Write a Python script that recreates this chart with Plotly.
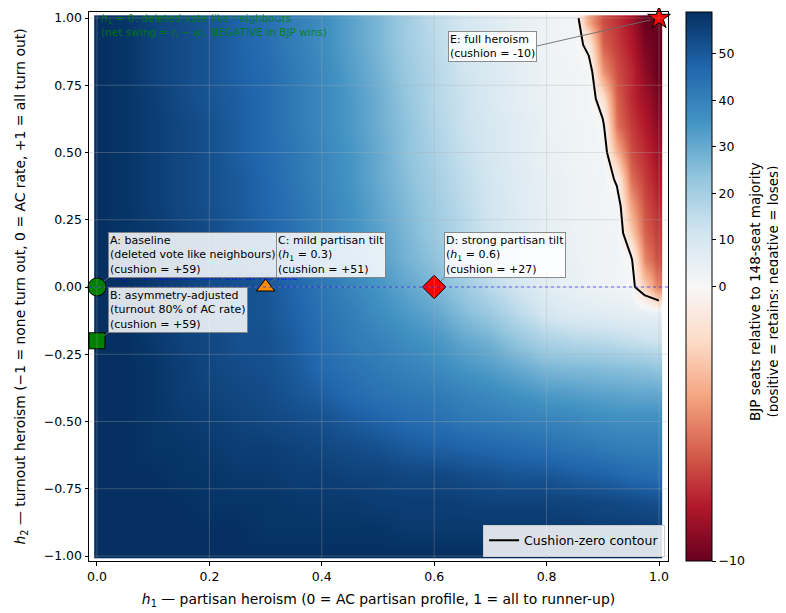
import numpy as np
import plotly.graph_objects as go

# ---------------- data ----------------
# grid of partisan heroism h1 (columns) and turnout heroism h2 (rows)
h1_vals = [0.0, 0.05, 0.10, 0.15, 0.20, 0.25, 0.30, 0.35, 0.40, 0.45, 0.50, 0.55,
           0.60, 0.65, 0.70, 0.75, 0.80, 0.825, 0.85, 0.875, 0.90, 0.925, 0.95, 0.975, 1.00]
h2_vals = [-1.0, -0.9, -0.8, -0.7, -0.6, -0.5, -0.4, -0.3, -0.2, -0.1, 0.0,
           0.1, 0.2, 0.3, 0.4, 0.5, 0.6, 0.7, 0.8, 0.9, 1.0]

# BJP seats relative to the 148-seat majority (cushion), one row per h2 value
cushion = [
    [59, 59, 59, 59, 59, 59, 59, 59, 59, 59, 59, 59, 59, 59, 59, 59, 59, 59, 59, 59, 59, 59, 59, 59, 59],
    [59, 59, 59, 59, 59, 59, 58, 58, 58, 58, 58, 57, 57, 57, 57, 57, 57, 56.5, 56.5, 56, 56, 56, 56, 56, 56],
    [59, 59, 59, 59, 58, 58, 58, 57.5, 57, 57, 56, 56, 56, 55.5, 55, 55, 55, 54.5, 54.5, 54, 54, 53.5, 53, 52.5, 52],
    [59, 59, 59, 58, 58, 57, 57, 56, 56, 55, 55, 54, 54, 53, 52, 51, 51, 50, 49, 48.5, 48, 47, 46, 45.5, 45],
    [59, 59, 58, 58, 57, 56, 56, 55, 54, 53, 52, 50, 49, 48, 47, 46, 45, 44, 43.5, 43, 42, 41.5, 41, 41, 41],
    [59, 59, 58, 57, 56, 55, 54, 53, 52, 50, 48, 46, 45, 43, 42, 41, 40, 39.5, 39, 38, 37.5, 37, 37, 37, 37],
    [59, 59, 58, 56, 55, 54, 53, 51, 49, 46, 44, 43, 42, 40, 38, 36, 34, 33.5, 33, 32.5, 32, 31.5, 31, 31, 31],
    [59, 59, 58, 56, 54, 53, 52, 50, 46, 44, 42, 40, 38, 35, 33, 30, 27, 26.5, 26, 26, 25.5, 25, 24.5, 24, 23],
    [59, 59, 57, 55, 54, 52, 52, 49, 45, 42, 40, 37, 35, 31, 28, 23, 19, 18, 17, 16.5, 16, 15, 14, 13, 12],
    [59, 59, 57, 55, 53, 52, 51, 48, 44, 41, 37, 34, 31, 26, 22, 16, 11, 9, 8, 7.5, 7, 6.5, 6, 5.5, 5],
    [59, 59, 57, 55, 53, 52, 51, 47, 43, 39, 35, 31, 27, 22, 16, 11, 7, 5.5, 4.5, 3.5, 2.5, 2, 1, -2.5, -5],
    [59, 59, 57, 55, 53, 51, 49, 45, 41, 37, 33, 28, 24, 18, 13, 9, 6, 5, 4, 3, 2.5, 2, 0.5, -5, -6.5],
    [59, 58, 57, 55, 53, 50, 48, 44, 40, 36, 32, 27, 22, 17, 12, 8.5, 5.5, 4.5, 3.5, 3, 2.5, 2, -2.5, -6, -7],
    [59, 58, 56, 54, 52, 50, 47, 44, 40, 36, 31, 26, 21, 16, 11, 8, 5, 4, 3, 2.5, 2, 1.5, -4, -6.5, -7.5],
    [59, 58, 56, 54, 52, 50, 47, 43, 39, 35, 30, 25, 20, 15, 11, 7.5, 5, 4, 3, 2.5, 2, -0.5, -5.5, -7, -8],
    [59, 58, 56, 54, 52, 49, 46, 43, 39, 35, 30, 24, 19, 14, 10, 7, 4.5, 3.5, 2.5, 2, 1.5, -3.5, -6.5, -7.5, -8.5],
    [59, 58, 56, 54, 52, 49, 46, 42, 38, 34, 29, 24, 18, 13, 10, 7, 4, 3, 2.5, 2, 0.5, -5.5, -7, -8, -9],
    [59, 58, 56, 53, 51, 49, 46, 42, 38, 34, 29, 23, 17, 13, 9, 6, 4, 3, 2, 1.5, -1.5, -6, -7.5, -8.5, -9.5],
    [59, 58, 55, 53, 51, 48, 46, 42, 38, 33, 28, 22, 17, 12, 9, 6, 3.5, 2.5, 2, 1.5, -4.5, -6.5, -7.5, -9, -10],
    [59, 58, 55, 53, 51, 48, 45, 41, 37, 32, 27, 21, 16, 11, 8, 5, 3, 2, 1.5, -1, -6, -7, -8, -9.5, -10],
    [59, 58, 55, 53, 51, 48, 45, 41, 37, 32, 27, 21, 15, 11, 8, 5, 3, 2, 1.5, -4, -6.5, -7.3, -8.3, -10, -10],
]

# named scenarios
scen_names = ["A", "B", "C", "D", "E"]
scen_h1 = [0.0, 0.0, 0.3, 0.6, 1.0]
scen_h2 = [0.0, -0.2, 0.0, 0.0, 1.0]
scen_cushion = [59, 59, 51, 27, -10]
scen_titles = ["A: baseline", "B: asymmetry-adjusted", "C: mild partisan tilt",
               "D: strong partisan tilt", "E: full heroism"]
scen_notes = ["(deleted vote like neighbours)", "(turnout 80% of AC rate)",
              "(<i>h</i><sub>1</sub> = 0.3)", "(<i>h</i><sub>1</sub> = 0.6)", None]

x_ticks = [0.0, 0.2, 0.4, 0.6, 0.8, 1.0]
y_ticks = [-1.0, -0.75, -0.5, -0.25, 0.0, 0.25, 0.5, 0.75, 1.0]
cb_ticks = [-10, 0, 10, 20, 30, 40, 50]

# ---------------- helpers ----------------
z = np.array(cushion, dtype=float)
vmin, vcenter, vmax = -10.0, 0.0, float(z.max())


def norm(v):
    """Two-slope normalisation (vmin -> 0, 0 -> 0.5, vmax -> 1)."""
    v = np.asarray(v, dtype=float)
    return np.where(v >= vcenter,
                    0.5 + 0.5 * (v - vcenter) / (vmax - vcenter),
                    0.5 - 0.5 * (vcenter - v) / (vcenter - vmin))


def fmt(v, nd):
    s = f"{abs(v):.{nd}f}"
    return ("\u2212" + s) if v < 0 else s


h1 = np.array(h1_vals)
h2 = np.array(h2_vals)
# brick edges for the heatmap (cells centred on the grid values)
xe = np.concatenate([[h1[0] - 0.005], (h1[:-1] + h1[1:]) / 2, [h1[-1] + 0.005]])
ye = np.concatenate([[h2[0] - 0.01], (h2[:-1] + h2[1:]) / 2, [h2[-1] + 0.01]])

rdbu = [[0.0, '#67001f'], [0.1, '#b2182b'], [0.2, '#d6604d'], [0.3, '#f4a582'],
        [0.4, '#fddbc7'], [0.5, '#f7f7f7'], [0.6, '#d1e5f0'], [0.7, '#92c5de'],
        [0.8, '#4393c3'], [0.9, '#2166ac'], [1.0, '#053061']]

FONT = "DejaVu Sans"
TICK = 12.5
LABEL = 13.9

fig = go.Figure()

fig.add_trace(go.Heatmap(
    x=xe, y=ye, z=norm(z), zmin=0, zmax=1, colorscale=rdbu, zsmooth='best',
    hoverinfo='skip', showlegend=False,
    colorbar=dict(
        x=1.031, xanchor='left', y=0.5, yanchor='middle', len=1.0, lenmode='fraction',
        thickness=26, thicknessmode='pixels', xpad=0, ypad=0,
        outlinewidth=1, outlinecolor='black',
        tickvals=[float(norm(v)) for v in cb_ticks],
        ticktext=[fmt(v, 0) for v in cb_ticks],
        ticks='outside', ticklen=4, tickwidth=0.8, tickcolor='black',
        tickfont=dict(size=TICK, family=FONT, color='black'),
    ),
))

fig.add_trace(go.Contour(
    x=h1_vals, y=h2_vals, z=cushion, autocontour=False,
    contours=dict(start=0, end=0, size=1, coloring='none'),
    line=dict(color='black', width=2, smoothing=0),
    showscale=False, hoverinfo='skip', showlegend=False,
))

marker_style = {
    "A": ("circle", 18, "#008000"),
    "B": ("square", 16, "#008000"),
    "C": ("triangle-up", 16, "#ff8c00"),
    "D": ("diamond", 18, "#ff0000"),
    "E": ("star", 17, "#ff0000"),
}
for i, nm in enumerate(scen_names):
    sym, sz, col = marker_style[nm]
    fig.add_trace(go.Scatter(
        x=[scen_h1[i]], y=[scen_h2[i]], mode='markers',
        marker=dict(symbol=sym, size=sz, color=col, line=dict(color='black', width=1)),
        cliponaxis=False, hoverinfo='skip', showlegend=False,
    ))

fig.add_trace(go.Scatter(
    x=[None], y=[None], mode='lines', line=dict(color='black', width=2),
    name='Cushion-zero contour', showlegend=True,
))

# ---------------- shapes: grid lines and reference line ----------------
grid_col = 'rgba(176,176,176,0.3)'
shapes = []
for xv in x_ticks:
    shapes.append(dict(type='line', xref='x', yref='paper', x0=xv, x1=xv, y0=0, y1=1,
                       line=dict(color=grid_col, width=1), layer='above'))
for yv in y_ticks:
    shapes.append(dict(type='line', xref='paper', yref='y', x0=0, x1=1, y0=yv, y1=yv,
                       line=dict(color=grid_col, width=1), layer='above'))
shapes.append(dict(type='line', xref='paper', yref='y', x0=0, x1=1, y0=0, y1=0,
                   line=dict(color='rgba(0,0,255,0.55)', width=1, dash='dot'), layer='above'))

# ---------------- annotations ----------------
annots = []
annots.append(dict(
    xref='paper', yref='paper', x=0.017, y=1.004, xanchor='left', yanchor='top',
    text="<i>h</i><sub>1</sub> = 0: deleted vote like neighbours<br>"
         "(net swing = <i>r<sub>i</sub></i> \u2212 <i>w<sub>i</sub></i>, NEGATIVE in BJP wins)",
    showarrow=False, align='left', font=dict(size=10.5, family=FONT, color='rgba(0,128,0,0.85)'),
))
annots.append(dict(
    xref='x', yref='y', x=0.03, y=0.0, xanchor='left', yanchor='bottom', yshift=1,
    text="<i>h</i><sub>2</sub> = 0: deleted turn out at AC rate",
    showarrow=False, font=dict(size=10.5, family=FONT, color='rgba(0,0,255,0.6)'),
))

box_pos = {  # (ax, ay, xanchor, yanchor, standoff) pixel offsets of the label boxes
    "A": (11, -9, 'left', 'bottom', 9),
    "B": (11, -8, 'left', 'bottom', 8),
    "C": (10, -9, 'left', 'bottom', 7),
    "D": (10, -9, 'left', 'bottom', 9),
    "E": (-122, 28, 'right', 'middle', 9),
}
for i, nm in enumerate(scen_names):
    lines = [scen_titles[i]]
    if scen_notes[i]:
        lines.append(scen_notes[i])
    cval = scen_cushion[i]
    lines.append(f"(cushion = {'+' if cval > 0 else ''}{cval})")
    ax, ay, xa, ya, so = box_pos[nm]
    annots.append(dict(
        xref='x', yref='y', x=scen_h1[i], y=scen_h2[i], ax=ax, ay=ay,
        axref='pixel', ayref='pixel', xanchor=xa, yanchor=ya,
        text="<br>".join(lines), align='left', showarrow=True,
        arrowhead=0, arrowwidth=1, arrowcolor='rgba(110,110,110,0.9)', standoff=so,
        bgcolor='rgba(255,255,255,0.85)', bordercolor='rgba(128,128,128,0.9)',
        borderwidth=1, borderpad=1,
        font=dict(size=11, family=FONT, color='black'),
    ))

# colour-bar label (two rotated lines)
annots.append(dict(
    xref='paper', yref='paper', x=(764 - 89) / 579, y=0.49, xanchor='center', yanchor='middle',
    text='BJP seats relative to 148-seat majority<br>(positive = retains; negative = loses)',
    textangle=-90, showarrow=False, align='center',
    font=dict(size=13.5, family=FONT, color='black'),
))

# the page adds an 8 px body margin, so the figure is 8 px smaller and shifted
fig.update_layout(
    width=778, height=605,
    margin=dict(l=81, r=118, t=4, b=52),
    paper_bgcolor='white', plot_bgcolor='white',
    font=dict(family=FONT, color='black'),
    shapes=shapes, annotations=annots, hovermode=False,
    showlegend=True,
    legend=dict(x=0.995, y=0.008, xanchor='right', yanchor='bottom',
                bgcolor='rgba(255,255,255,0.85)', bordercolor='#cccccc', borderwidth=1,
                font=dict(size=12.5, family=FONT, color='black')),
)
fig.update_xaxes(
    range=[-0.0142, 1.016], tickvals=x_ticks, ticktext=[fmt(v, 1) for v in x_ticks],
    ticks='outside', ticklen=3.5, tickwidth=0.8, tickcolor='black',
    showgrid=False, zeroline=False, showline=True, mirror=True, linecolor='black', linewidth=1,
    tickfont=dict(size=TICK, family=FONT, color='black'), automargin=False,
    title=dict(text="<i>h</i><sub>1</sub> \u2014 partisan heroism (0 = AC partisan profile, 1 = all to runner-up)",
               standoff=11, font=dict(size=LABEL, family=FONT, color='black')),
)
fig.update_yaxes(
    range=[-1.0186, 1.0223], tickvals=y_ticks, ticktext=[fmt(v, 2) for v in y_ticks],
    ticks='outside', ticklen=3.5, tickwidth=0.8, tickcolor='black',
    showgrid=False, zeroline=False, showline=True, mirror=True, linecolor='black', linewidth=1,
    tickfont=dict(size=TICK, family=FONT, color='black'), automargin=False,
    title=dict(text="<i>h</i><sub>2</sub> \u2014 turnout heroism (\u22121 = none turn out, 0 = AC rate, +1 = all turn out)",
               standoff=14, font=dict(size=LABEL, family=FONT, color='black')),
)

fig.write_html("out.html")
